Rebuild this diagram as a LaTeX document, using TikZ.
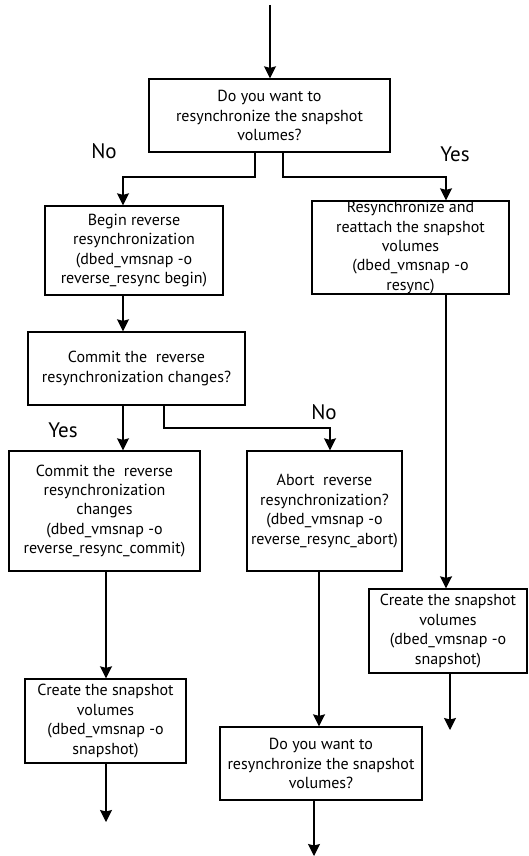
\documentclass[tikz,border=0pt]{standalone}
\usepackage{fontspec}
\setmainfont{PT Sans}
\usetikzlibrary{arrows.meta}
\tikzset{
  stepbox/.style={draw,line width=1.3pt,align=center,inner sep=0pt,font=\fontsize{16}{19.4}\selectfont},
  flow/.style={line width=1.3pt,-{Stealth[length=12pt,width=12pt,inset=1.5pt]}},
  answer/.style={font=\fontsize{21}{24}\selectfont},
}
\begin{document}
\begin{tikzpicture}[x=1pt,y=-1pt]
		\useasboundingbox (0,0) rectangle (528,856);
		\node[stepbox,minimum width=241pt,minimum height=73pt] (Q1) at (269.5,115.5) {Do you want to\\resynchronize the snapshot\\volumes?};
		\node[stepbox,minimum width=178pt,minimum height=89pt] (B1) at (134,250.5) {Begin reverse\\resynchronization\\(dbed\_vmsnap -o\\reverse\_resync begin)};
		\node[stepbox,minimum width=197pt,minimum height=93pt] (R1) at (410.5,247.5) {Resynchronize and\\reattach the snapshot\\volumes\\(dbed\_vmsnap -o\\resync)};
		\node[stepbox,minimum width=217pt,minimum height=73pt] (Q2) at (136.5,368.5) {Commit the\ \ reverse\\resynchronization changes?};
		\node[stepbox,minimum width=191pt,minimum height=120pt] (B2) at (104.5,511) {Commit the\ \ reverse\\resynchronization\\changes\\(dbed\_vmsnap -o\\reverse\_resync\_commit)};
		\node[stepbox,minimum width=155pt,minimum height=120pt] (A2) at (324.5,511) {Abort\ \ reverse\\resynchronization?\\(dbed\_vmsnap -o\\reverse\_resync\_abort)};
		\node[stepbox,minimum width=158pt,minimum height=84pt] (R2) at (448,631) {Create the snapshot\\volumes\\(dbed\_vmsnap -o\\snapshot)};
		\node[stepbox,minimum width=161pt,minimum height=84pt] (B3) at (105.5,721) {Create the snapshot\\volumes\\(dbed\_vmsnap -o\\snapshot)};
		\node[stepbox,minimum width=202pt,minimum height=73pt] (B4) at (321,763.5) {Do you want to\\resynchronize the snapshot\\volumes?};
		\node[answer] (no1) at (104,151) {No};
		\node[answer] (yes1) at (455,154) {Yes};
		\node[answer] (yes2) at (63,430) {Yes};
		\node[answer] (no2) at (324,412) {No};
		\coordinate (in) at (270,5);
		\coordinate (j1) at (123,177);
		\coordinate (j2) at (446,177);
		\coordinate (j3) at (330,428);
		\coordinate (j4) at (319,571);
		\coordinate (outL) at (106,822);
		\coordinate (outR) at (450,730);
		\coordinate (outB) at (314,856);
		\draw[flow] (in) -- (in |- Q1.north);
		\draw[flow] ([xshift=-14.5pt]Q1.south) |- (j1) -- (j1 |- B1.north);
		\draw[flow] ([xshift=13.5pt]Q1.south) |- (j2) -- (j2 |- R1.north);
		\draw[flow] (j1 |- B1.south) -- (j1 |- Q2.north);
		\draw[flow] (j1 |- Q2.south) -- (j1 |- B2.north);
		\draw[flow] ([xshift=27.5pt]Q2.south) |- (j3) -- (j3 |- A2.north);
		\draw[flow] (j2 |- R1.south) -- (j2 |- R2.north);
		\draw[flow] (outR |- R2.south) -- (outR);
		\draw[flow] (outL |- B2.south) -- (outL |- B3.north);
		\draw[flow] (outL |- B3.south) -- (outL);
		\draw[flow] (j4) -- (j4 |- B4.north);
		\draw[flow] (outB |- B4.south) -- (outB);
	\end{tikzpicture}
\end{document}
